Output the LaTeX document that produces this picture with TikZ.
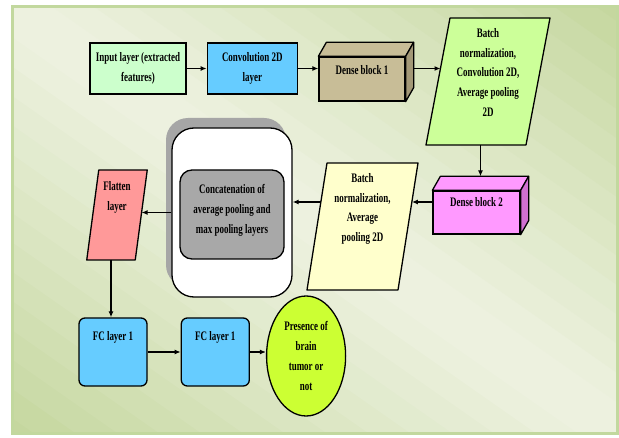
\documentclass[tikz,border=0pt]{standalone}
\usepackage{fontspec}
\setmainfont[FakeStretch=0.69]{Liberation Serif}
\usepackage{tikz}
\usetikzlibrary{arrows.meta,positioning,calc,shapes.geometric,shadows}
\definecolor{panellight}{HTML}{EEF2E1}
\definecolor{panelgreen}{HTML}{C3D69C}
\definecolor{panelrim}{HTML}{C2D89E}
\definecolor{mint}{HTML}{CCFFCC}
\definecolor{skyblue}{HTML}{66CCFF}
\definecolor{tan}{HTML}{C8BD97}
\definecolor{tandark}{HTML}{A39877}
\definecolor{lime}{HTML}{CCFF99}
\definecolor{orchid}{HTML}{FF99FF}
\definecolor{orchiddark}{HTML}{D070D0}
\definecolor{cream}{HTML}{FFFFCC}
\definecolor{midgray}{HTML}{A8A8A8}
\definecolor{salmon}{HTML}{FF9999}
\definecolor{limey}{HTML}{CCFF33}
% top and side faces of a block
\newcommand{\cubefaces}[3]{%
  \filldraw[fill=#2,line width=1.3pt,line join=round] (#1.north west) -- ++(8,14) -- ($(#1.north east)+(8,14)$) -- (#1.north east) -- cycle;
  \filldraw[fill=#3,line width=1.3pt,line join=round] (#1.north east) -- ++(8,14) -- ($(#1.south east)+(8,14)$) -- (#1.south east) -- cycle;}
% slanted box round a node, #2 = half the slant
\newcommand{\slabshape}[3]{%
  \filldraw[fill=#3,line width=1.3pt,line join=round] ($(#1.south west)-(#2,0)$) -- ($(#1.north west)+(#2,0)$) -- ($(#1.north east)+(#2,0)$) -- ($(#1.south east)-(#2,0)$) -- cycle;}

\begin{document}
\begin{tikzpicture}[x=1pt,y=1pt,>={Latex[length=6pt,width=5pt]},
  txt/.style={font=\fontsize{13}{19.8}\selectfont\bfseries,align=center},
  box/.style={txt,draw=black,line width=1.3pt,inner sep=2pt},
  blk/.style={box,minimum width=86pt,minimum height=44pt},
  slab/.style={inner sep=0pt,outer sep=0pt},
  fc/.style={box,fill=skyblue,rounded corners=6pt,minimum width=68pt,minimum height=68pt},
  lnk/.style={->,line width=1.2pt}]
\useasboundingbox (0,0) rectangle (619,437);
% background panel, light along one diagonal
\begin{scope}
\clip (12.5,3.5) rectangle (617.5,430.5);
\begin{scope}[rotate around={-35:(315,217)}]
\foreach \i in {0,...,29}{
  \pgfmathsetmacro{\f}{100*(abs(-348+24*\i)/360)^1.1}
  \fill[panelgreen!\f!panellight] (-65,{-143+24*\i}) rectangle (695,{-143+24*\i+25});
}
\end{scope}
\end{scope}
\draw[panelrim,line width=3pt] (12.5,3.5) rectangle (617.5,430.5);
% top row
\node[box,fill=mint,minimum width=96pt,minimum height=51pt] (inp) at (138,368.5) {Input layer (extracted\\ features)};
\node[box,fill=skyblue,minimum width=90pt,minimum height=51pt,right=20pt of inp] (conv) {Convolution 2D\\ layer};
\node[blk,fill=tan,label={[txt,yshift=9pt]center:Dense block 1}] (dense1) at (362,358) {};
\cubefaces{dense1}{tan}{tandark}
\node[slab,minimum width=100pt,minimum height=127pt] (bnconv) at (488,355.5) {};
\slabshape{bnconv}{12}{lime}
\node[txt,yshift=9pt] (bnconvtext) at (bnconv) {Batch\\ normalization,\\ Convolution 2D,\\ Average pooling\\ 2D};
% middle row
\node[blk,fill=orchid,minimum width=87pt,minimum height=43pt,label={[txt,yshift=10pt]center:Dense block 2}] (dense2) at (476.5,224.5) {};
\cubefaces{dense2}{orchid}{orchiddark}
\node[slab,minimum width=91pt,minimum height=127pt] (bnpool) at (362.5,210.5) {};
\slabshape{bnpool}{10}{cream}
\node[txt,yshift=17.5pt] (bnpooltext) at (bnpool) {Batch\\ normalization,\\ Average\\ pooling 2D};
\node[draw=black,line width=1.3pt,fill=white,rounded corners=22pt,minimum width=120pt,minimum height=169pt,
  drop shadow={shadow xshift=-6pt,shadow yshift=10pt,fill=black!35,opacity=1}] (cat) at (232,224.5) {};
\node[box,fill=midgray,rounded corners=12pt,minimum width=104pt,minimum height=89pt,
  label={[txt,yshift=4pt]center:{Concatenation of\\ average pooling and\\ max pooling layers}}] (pool) at (232,222.5) {};
\node[slab,minimum width=48.5pt,minimum height=90pt] (flat) at (117,222) {};
\slabshape{flat}{6}{salmon}
\node[txt,yshift=18pt] (flattext) at (flat) {Flatten\\ layer};
% bottom row
\node[fc,label={[txt,yshift=15pt]center:FC layer 1}] (fc1) at (113,85) {};
\node[fc,right=33pt of fc1,label={[txt,yshift=15pt]center:FC layer 1}] (fc2) {};
\node[txt,draw=black,line width=1.3pt,ellipse,fill=limey,minimum width=79pt,minimum height=120pt,inner sep=0pt,right=16pt of fc2,yshift=-4pt] (out) {Presence of\\ brain\\ tumor or\\ not};
% connectors
\draw[lnk] (inp) -- (conv);
\draw[lnk] (conv) -- (conv -| dense1.west);
\draw[lnk] ($(conv -| dense1.east)+(8,0)$) -- ($(conv -| bnconv.west)+(2.5,0)$);
\coordinate (d2top) at ($(dense2.north)+(4,14)$);
\draw[lnk] (bnconv.south -| d2top) -- (d2top);
\coordinate (a2) at ($(dense2.west)+(0,10.5)$);
\draw[lnk] (a2) -- ($(a2 -| bnpool.east)+(3.9,0)$);
\draw[lnk] ($(a2 -| bnpool.west)+(3.9,0)$) -- (a2 -| cat.east);
\draw[lnk] (cat.west) -- ($(cat.west -| flat.east)+(0.3,0)$);
\draw[lnk] ($(flat.south)-(6,0)$) -- ($(flat.south |- fc1.north)-(6,0)$);
\draw[lnk] (fc1) -- (fc2);
\draw[lnk] (fc2.east) -- (fc2.east -| out.west);
\end{tikzpicture}
\end{document}
